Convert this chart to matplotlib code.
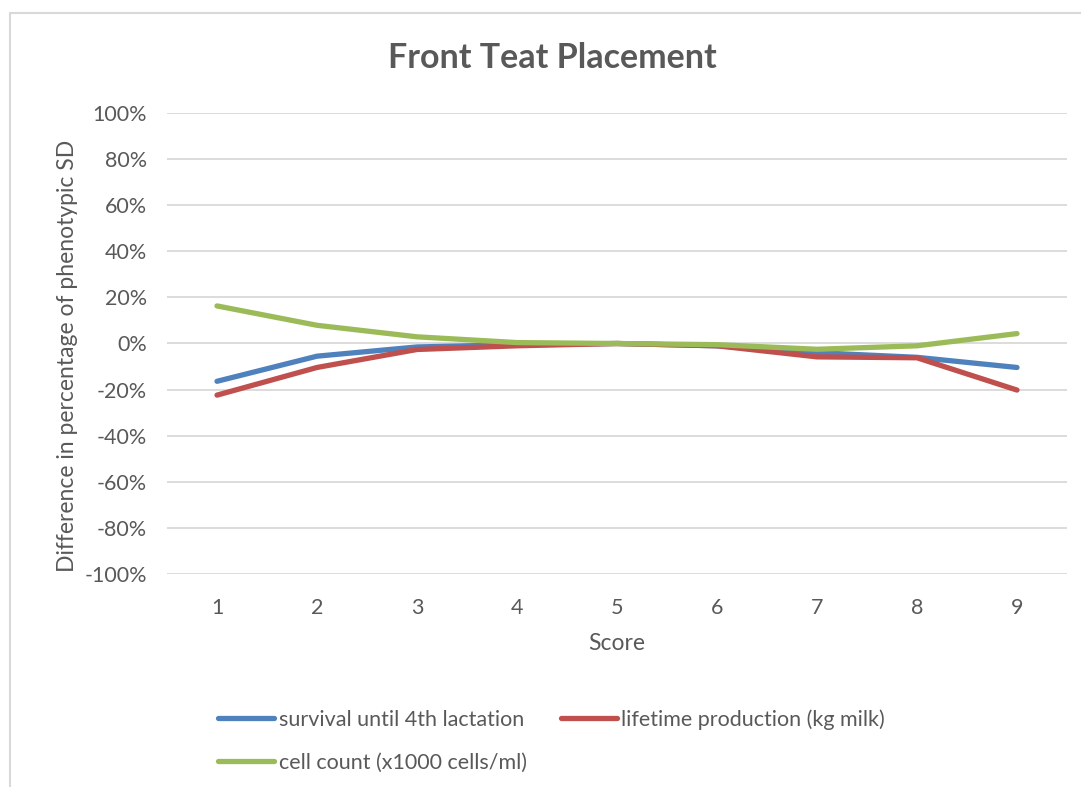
import matplotlib
matplotlib.use("Agg")
import matplotlib.pyplot as plt
from matplotlib.patches import Rectangle
from matplotlib.ticker import FuncFormatter, MultipleLocator

scores = [1, 2, 3, 4, 5, 6, 7, 8, 9]
survival = [-16.4, -5.5, -1.5, -0.5, 0.0, -1.0, -4.0, -6.0, -10.4]
lifetime = [-22.4, -10.4, -2.6, -1.0, 0.0, -1.0, -5.8, -6.2, -20.2]
cellcount = [16.3, 7.9, 2.9, 0.4, 0.0, -0.5, -2.5, -1.0, 4.3]
series_names = ["survival until 4th lactation", "lifetime production (kg milk)",
                "cell count (x1000 cells/ml)"]
colors = ["#4F81BD", "#C0504D", "#9BBB59"]

plt.rcParams['font.family'] = ['Lato', 'DejaVu Sans']
W, H = 1081, 787
fig = plt.figure(figsize=(W / 100, H / 100), dpi=100)
fig.patch.set_facecolor("white")

# chart frame
fig.patches.append(Rectangle((10 / W, -0.01), 1.05, 1 - 13 / H + 0.01,
                             transform=fig.transFigure, fill=False,
                             edgecolor="#d9d9d9", linewidth=1.5))

ax = fig.add_axes([167 / W, 1 - 574 / H, 900 / W, 461 / H])
lines = []
for vals, c in zip([survival, lifetime, cellcount], colors):
    l, = ax.plot(scores, [v / 100 for v in vals], color=c, linewidth=3.8,
                 solid_capstyle="round", zorder=3)
    lines.append(l)

ax.set_xlim(0.5, 9.5)
ax.set_ylim(-1.0, 1.0)
ax.yaxis.set_major_locator(MultipleLocator(0.2))
ax.yaxis.set_major_formatter(FuncFormatter(lambda v, p: f"{round(v * 100):d}%"))
ax.set_xticks(scores)
ax.grid(axis="y", color="#d9d9d9", linewidth=1.3, zorder=0)
for s in ax.spines.values():
    s.set_visible(False)
ax.tick_params(axis="both", length=0, labelsize=15.5, labelcolor="#595959")
ax.tick_params(axis="y", pad=14.5)
ax.tick_params(axis="x", pad=17)

ax.set_xlabel("Score", fontsize=16.5, color="#595959")
ax.xaxis.label.set_va("center")
ax.xaxis.set_label_coords((617 - 167) / 900, (574 - 644) / 461)
ax.set_ylabel("Difference in percentage of phenotypic SD", fontsize=16.5,
              color="#595959")
ax.yaxis.label.set_va("center")
ax.yaxis.set_label_coords((68 - 167) / 900, (574 - 356) / 461)

fig.text(552 / W, 1 - 58 / H, "Front Teat Placement", fontsize=24.5,
         fontweight="bold", color="#595959", ha="center", va="center")

handles = [lines[0], lines[2], lines[1]]
labels = [series_names[0], series_names[2], series_names[1]]
fig.legend(handles, labels, loc="upper left",
           bbox_to_anchor=(199 / W, 1 - 690 / H), ncol=2, frameon=False,
           fontsize=15.5, labelcolor="#595959", handlelength=2.6,
           handletextpad=0.2, columnspacing=1.6, labelspacing=1.05)

fig.savefig("out.png", dpi=100)
